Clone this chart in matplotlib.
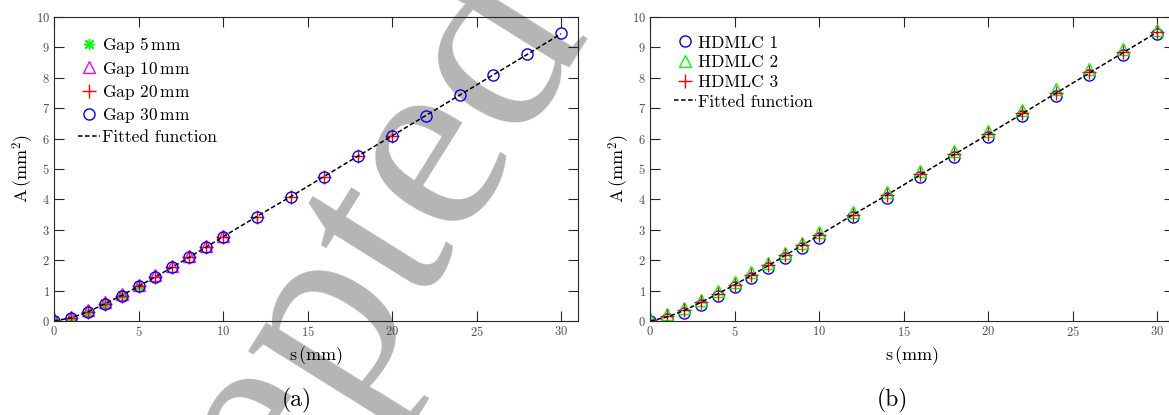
import matplotlib
matplotlib.use("Agg")
import matplotlib.pyplot as plt

plt.rcParams['font.family'] = 'cmr10'
plt.rcParams['mathtext.fontset'] = 'cm'
plt.rcParams['axes.formatter.use_mathtext'] = True

# left panel: different gaps
s_fine = [0, 1, 2, 3, 4, 5, 6, 7, 8, 9, 10]
s_gap5 = [0, 1, 2, 3, 4, 5]
a_gap5 = [0.02, 0.10, 0.30, 0.57, 0.84, 1.15]
a_gap10 = [0.05, 0.14, 0.35, 0.61, 0.88, 1.19, 1.50, 1.81, 2.15, 2.47, 2.81]
s_gap20 = [0, 1, 2, 3, 4, 5, 6, 7, 8, 9, 10, 12, 14, 16, 18, 20]
a_gap20 = [0.01, 0.10, 0.30, 0.56, 0.83, 1.14, 1.45, 1.76, 2.11, 2.42, 2.76,
           3.43, 4.07, 4.75, 5.43, 6.09]
s_all = [0, 1, 2, 3, 4, 5, 6, 7, 8, 9, 10, 12, 14, 16, 18, 20, 22, 24, 26, 28, 30]
a_gap30 = [0.01, 0.10, 0.30, 0.56, 0.83, 1.14, 1.45, 1.76, 2.11, 2.42, 2.77,
           3.43, 4.07, 4.75, 5.43, 6.09, 6.75, 7.43, 8.10, 8.78, 9.46]
fit_left = [0.0, 0.10, 0.30, 0.56, 0.84, 1.14, 1.45, 1.77, 2.10, 2.43, 2.77,
            3.44, 4.09, 4.76, 5.43, 6.09, 6.76, 7.43, 8.10, 8.77, 9.45]

# right panel: three HDMLC devices
a_hd1 = [0.0, 0.08, 0.27, 0.54, 0.82, 1.12, 1.43, 1.75, 2.08, 2.41, 2.74,
         3.41, 4.05, 4.73, 5.40, 6.06, 6.73, 7.40, 8.08, 8.75, 9.43]
a_hd2 = [0.05, 0.22, 0.43, 0.70, 0.98, 1.28, 1.60, 1.92, 2.25, 2.58, 2.92,
         3.60, 4.25, 4.92, 5.60, 6.26, 6.94, 7.62, 8.29, 8.96, 9.56]
a_hd3 = [0.02, 0.15, 0.35, 0.62, 0.90, 1.20, 1.52, 1.83, 2.17, 2.50, 2.83,
         3.50, 4.14, 4.82, 5.49, 6.15, 6.83, 7.51, 8.18, 8.85, 9.50]
fit_right = [0.0, 0.13, 0.34, 0.61, 0.89, 1.19, 1.50, 1.82, 2.16, 2.49, 2.82,
             3.49, 4.14, 4.81, 5.48, 6.14, 6.81, 7.49, 8.16, 8.83, 9.50]

xticks = [0, 5, 10, 15, 20, 25, 30]
yticks = [0, 1, 2, 3, 4, 5, 6, 7, 8, 9, 10]

fig = plt.figure(figsize=(11.69, 4.15), dpi=100)
ax1 = fig.add_axes([54 / 1169, 94 / 415, 524 / 1169, 304 / 415])
ax2 = fig.add_axes([650 / 1169, 94 / 415, 524 / 1169, 304 / 415])

fig.text(325 / 1169, 1 - 455 / 415, "Accepted", fontsize=190, color="#b5b5b5",
         family="Liberation Serif", rotation=58, rotation_mode="anchor",
         ha="center", va="baseline", zorder=-5)

ms = 8
dash = (0, (3, 1.6))

ax1.plot(s_gap5, a_gap5, linestyle="none", marker=(8, 2, 0), color=(0, 1, 0),
         ms=ms, mew=1, label=r"Gap 5$\,$mm")
ax1.plot(s_fine, a_gap10, linestyle="none", marker="^", mfc="none",
         mec=(1, 0, 1), ms=ms, mew=1, label=r"Gap 10$\,$mm")
ax1.plot(s_gap20, a_gap20, linestyle="none", marker="+", color=(1, 0, 0),
         ms=ms + 2, mew=1, label=r"Gap 20$\,$mm")
ax1.plot(s_all, a_gap30, linestyle="none", marker="o", mfc="none",
         mec=(0, 0, 1), ms=ms, mew=1, label=r"Gap 30$\,$mm")
ax1.plot(s_all, fit_left, color="k", linestyle=dash, lw=1.1, label="Fitted function")

ax2.plot(s_all, a_hd1, linestyle="none", marker="o", mfc="none",
         mec=(0, 0, 1), ms=ms, mew=1, label="HDMLC 1")
ax2.plot(s_all, a_hd2, linestyle="none", marker="^", mfc="none",
         mec=(0, 1, 0), ms=ms, mew=1, label="HDMLC 2")
ax2.plot(s_all, a_hd3, linestyle="none", marker="+", color=(1, 0, 0),
         ms=ms + 2, mew=1, label="HDMLC 3")
ax2.plot(s_all, fit_right, color="k", linestyle=dash, lw=1.1, label="Fitted function")

for ax, tag, xc in [(ax1, "(a)", 297), (ax2, "(b)", 892)]:
    ax.set_facecolor("none")
    ax.set_xlim(0, 31)
    ax.set_ylim(0, 10)
    ax.set_xticks(xticks)
    ax.set_yticks(yticks)
    ax.tick_params(direction="in", length=7.5, width=0.8, top=True, right=True,
                   labelsize=9, labelcolor="0.3", color="0.15", pad=3)
    for sp in ax.spines.values():
        sp.set_color("0.15")
        sp.set_linewidth(0.8)
    ax.set_xlabel(r"s$\,$(mm)", fontsize=13, labelpad=4)
    ax.set_ylabel(r"A$\,$(mm$^2$)", fontsize=13, labelpad=0)
    ax.legend(loc="upper left", frameon=False, fontsize=12.5, handlelength=1.3,
              handletextpad=0.1, labelspacing=0.25, borderaxespad=0.3,
              bbox_to_anchor=(0.022, 0.98))
    fig.text(xc / 1169, 1 - 400 / 415, tag, fontsize=17, ha="center", va="center")

fig.savefig("out.png", dpi=100)
